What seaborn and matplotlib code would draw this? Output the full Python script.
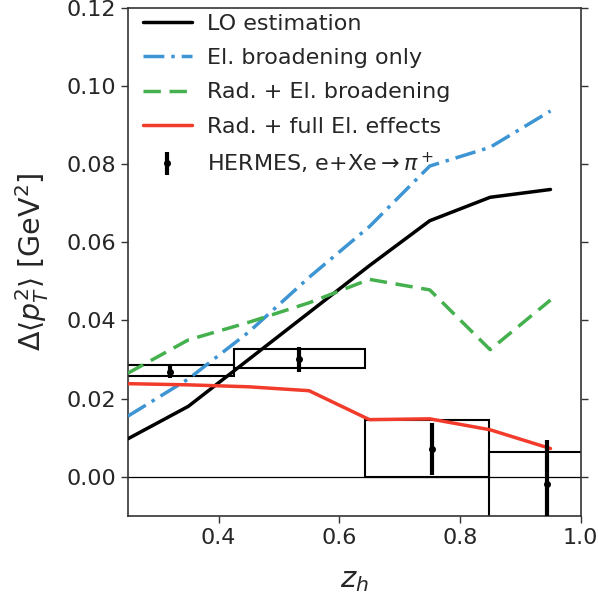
import numpy as np
import pandas as pd
import matplotlib
matplotlib.use("Agg")
import matplotlib.pyplot as plt
from matplotlib.patches import Rectangle
from matplotlib.lines import Line2D
import seaborn as sns

# Theory curves: transverse-momentum broadening vs z_h
z_theory = [0.25, 0.35, 0.45, 0.55, 0.65, 0.75, 0.85, 0.95]
lo_estimation = [0.0097, 0.0180, 0.0300, 0.0420, 0.0540, 0.0655, 0.0715, 0.0735]
el_broadening = [0.0155, 0.0250, 0.0370, 0.0510, 0.0640, 0.0795, 0.0843, 0.0936]
rad_el_broadening = [0.0265, 0.0350, 0.0395, 0.0445, 0.0505, 0.0478, 0.0325, 0.0452]
rad_full_el = [0.0238, 0.0235, 0.0230, 0.0220, 0.0146, 0.0148, 0.0120, 0.0072]

series_names = ["LO estimation", "El. broadening only",
                "Rad. + El. broadening", "Rad. + full El. effects"]

# HERMES e+Xe -> pi+ data
z_data = [0.32, 0.533, 0.753, 0.945]
dpt2_data = [0.0268, 0.0300, 0.0070, -0.0020]
stat_err = [0.0015, 0.0032, 0.0067, 0.0115]
# systematic boxes: z range and Δ<pT^2> range
box_zlo = [0.215, 0.425, 0.643, 0.848]
box_zhi = [0.425, 0.643, 0.848, 1.042]
box_ylo = [0.0258, 0.0277, 0.0000, -0.0150]
box_yhi = [0.0285, 0.0326, 0.0144, 0.0064]

df = pd.DataFrame({
    "z": z_theory * 4,
    "dpt2": lo_estimation + el_broadening + rad_el_broadening + rad_full_el,
    "model": sum([[n] * len(z_theory) for n in series_names], []),
})

sns.set_style("ticks")
plt.rcParams["font.family"] = ["DejaVu Sans"]
plt.rcParams["mathtext.fontset"] = "dejavusans"

fig = plt.figure(figsize=(5.98, 5.99), dpi=100)
ax = fig.add_axes([0.214, 0.139, 0.757, 0.848])

palette = {"LO estimation": "black",
           "El. broadening only": "#3d95d3",
           "Rad. + El. broadening": "#45b04e",
           "Rad. + full El. effects": "#f23b2b"}
sns.lineplot(data=df, x="z", y="dpt2", hue="model", palette=palette,
             hue_order=series_names, ax=ax, lw=2.5, legend=False, zorder=3)
styles = [None, (0, (6, 2, 1, 2)), (0, (5, 2.5)), None]
for line, ls in zip(ax.get_lines(), styles):
    if ls is not None:
        line.set_linestyle(ls)

ax.axhline(0.0, color="black", lw=0.9, zorder=1)

for zl, zh, yl, yh in zip(box_zlo, box_zhi, box_ylo, box_yhi):
    ax.add_patch(Rectangle((zl, yl), zh - zl, yh - yl, fill=False,
                           ec="black", lw=1.5, zorder=2))

ax.errorbar(z_data, dpt2_data, yerr=stat_err, fmt="o", color="black",
            ms=4, elinewidth=3, capsize=0, zorder=4,
            label=r"HERMES, e+Xe$\rightarrow\pi^+$")

ax.set_xlim(0.25, 1.0)
ax.set_ylim(-0.01, 0.12)
ax.set_xticks([0.4, 0.6, 0.8, 1.0])
ax.set_yticks([0.0, 0.02, 0.04, 0.06, 0.08, 0.10, 0.12])
ax.yaxis.set_major_formatter(matplotlib.ticker.FormatStrFormatter("%.2f"))
ax.xaxis.set_major_formatter(matplotlib.ticker.FormatStrFormatter("%.1f"))
ax.tick_params(axis="both", labelsize=16, direction="out", length=5,
               width=1, color="#333333")
ax.tick_params(axis="y", right=True)
for s in ax.spines.values():
    s.set_color("#333333")
    s.set_linewidth(1.2)

ax.set_xlabel(r"$z_h$", fontsize=21, labelpad=13)
ax.set_ylabel(r"$\Delta\langle p_T^2\rangle$ [GeV$^2$]", fontsize=20.5,
              labelpad=11)

handles = [Line2D([], [], color=palette[n], lw=2.5,
                  linestyle=(styles[i] if styles[i] is not None else "-"))
           for i, n in enumerate(series_names)]
eb_handle, eb_label = ax.get_legend_handles_labels()
handles += eb_handle
labels = series_names + eb_label
ax.legend(handles, labels, loc="upper left", frameon=False, fontsize=16,
          handlelength=2.2, handletextpad=0.7, labelspacing=0.64,
          borderaxespad=0.15, borderpad=0.4, bbox_to_anchor=(0.006, 1.012))

fig.savefig("out.png", dpi=100)
